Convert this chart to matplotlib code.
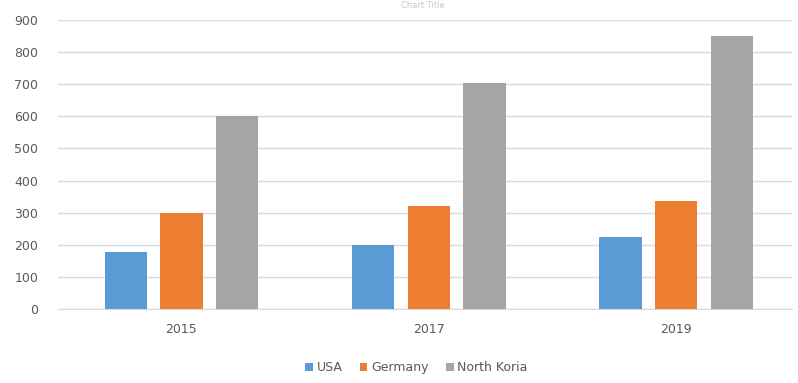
import matplotlib

matplotlib.use("Agg")
import matplotlib.pyplot as plt
import numpy as np


YEARS = ["2015", "2017", "2019"]
SERIES_NAMES = ["USA", "Germany", "North Koria"]
USA = [178, 200, 225]
GERMANY = [300, 320, 335]
NORTH_KORIA = [600, 705, 850]

COLORS = ["#5B9BD5", "#ED7D31", "#A5A5A5"]
TEXT_COLOR = "#595959"
GRID_COLOR = "#D9D9D9"


def main():
    plt.rcParams["font.family"] = ["DejaVu Sans"]

    fig = plt.figure(figsize=(7.98, 3.83), dpi=100)
    ax = fig.add_axes([57.75 / 798, 74 / 383, (792 - 57.75) / 798, (309 - 20) / 383])

    x = np.arange(len(YEARS))
    pitch = 0.225
    width = 0.172
    values = [USA, GERMANY, NORTH_KORIA]
    for i, (name, vals) in enumerate(zip(SERIES_NAMES, values)):
        ax.bar(x + (i - 1) * pitch, vals, width=width, color=COLORS[i],
               label=name, zorder=3)

    ax.set_xlim(-0.5, 2.468)
    ax.set_ylim(0, 900)
    ax.set_yticks(range(0, 901, 100))
    ax.set_xticks(x)
    ax.set_xticklabels(YEARS)

    ax.grid(axis="y", color=GRID_COLOR, linewidth=1, zorder=0)
    for side in ["top", "right", "left"]:
        ax.spines[side].set_visible(False)
    ax.spines["bottom"].set_color(GRID_COLOR)
    ax.tick_params(axis="both", length=0, colors=TEXT_COLOR, labelsize=9)
    ax.tick_params(axis="y", pad=14)
    ax.tick_params(axis="x", pad=10)

    # small faint title squeezed into the top strip
    fig.text(0.53, 0.997, "Chart Title", ha="center", va="top",
             fontsize=6, color="#C8C8C8")

    fig.legend(loc="center", bbox_to_anchor=(0.522, 0.04), ncol=3,
               frameon=False, fontsize=9, labelcolor=TEXT_COLOR,
               handlelength=0.6, handleheight=0.6, handletextpad=0.3,
               columnspacing=1.4)

    fig.savefig("out.png", dpi=100)
    plt.close(fig)


if __name__ == "__main__":
    main()
